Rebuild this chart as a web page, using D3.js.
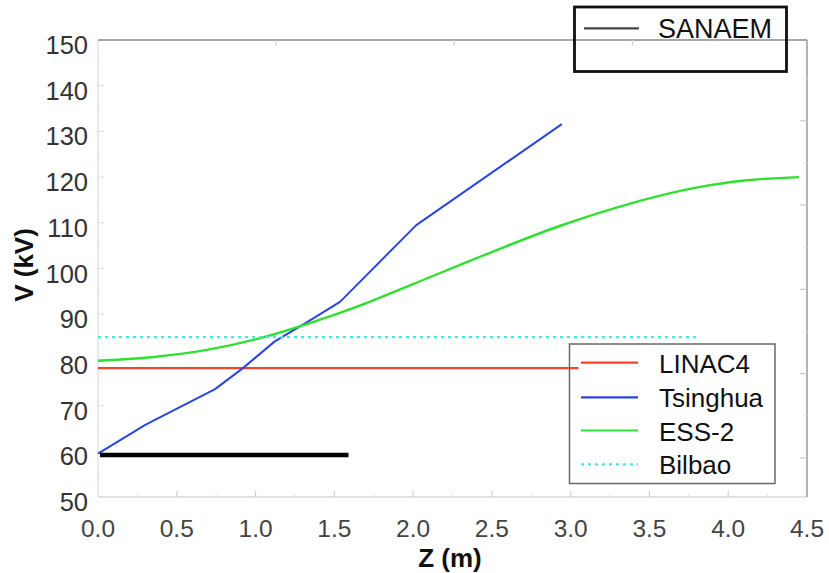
<!DOCTYPE html>
<html>
<head>
<meta charset="utf-8">
<script src="https://cdn.jsdelivr.net/npm/d3@7"></script>
<style>
  html, body { margin: 0; padding: 0; background: #fff; }
  svg { display: block; font-family: "Liberation Sans", Arial, Helvetica, sans-serif; }
</style>
</head>
<body>
<svg id="chart" width="829" height="573"></svg>
<script>
// Vane voltage profiles along the RFQ length
const zTicks = [0, 0.5, 1, 1.5, 2, 2.5, 3, 3.5, 4, 4.5];
const vTicks = [50, 60, 70, 80, 90, 100, 110, 120, 130, 140, 150];

const linac4Z = [0, 3.05];
const linac4V = [78.2, 78.2];

const tsinghuaZ = [0, 0.30, 0.743, 0.92, 1.12, 1.33, 1.536, 2.02, 2.944];
const tsinghuaV = [59.5, 65.8, 73.6, 78.2, 84.0, 88.3, 92.7, 109.5, 131.6];

const essZ = [0, 0.37, 0.69, 1.0, 1.33, 1.64, 2.0, 2.5, 2.93, 3.44, 3.78, 4.12, 4.45];
const essV = [79.8, 80.7, 82.2, 84.5, 87.9, 91.6, 96.6, 103.6, 109.3, 114.8, 117.6, 119.3, 120.0];

const bilbaoZ = [0, 3.82];
const bilbaoV = [85.0, 85.0];

const sanaemZ = [0.013, 1.59];
const sanaemV = [59.2, 59.2];

const legendNames = ["LINAC4", "Tsinghua", "ESS-2", "Bilbao"];

const W = 829, H = 573;
const plot = { left: 98, right: 807, top: 40, bottom: 497 };

const svg = d3.select("#chart");

const x = d3.scaleLinear().domain([0, 4.5]).range([plot.left, plot.right]);
const y = d3.scaleLinear().domain([50, 150]).range([plot.bottom, plot.top]);
// secondary frame scales (ticks only on the right and top edges)
const yRight = d3.scaleLinear().domain([-0.463, 4.958]).range([plot.bottom, plot.top]);
const xTop = d3.scaleLinear().domain([0, 3.98]).range([plot.left, plot.right]);

// frame: faint left/bottom, darker top/right
const frame = svg.append("g");
frame.append("line").attr("x1", plot.left).attr("x2", plot.left).attr("y1", plot.top).attr("y2", plot.bottom)
  .attr("stroke", "#e2e2e2").attr("stroke-width", 1.5);
frame.append("line").attr("x1", plot.left).attr("x2", plot.right).attr("y1", plot.bottom).attr("y2", plot.bottom)
  .attr("stroke", "#d8d8d8").attr("stroke-width", 1.5);
frame.append("line").attr("x1", plot.left).attr("x2", plot.right).attr("y1", plot.top).attr("y2", plot.top)
  .attr("stroke", "#8a8a8a").attr("stroke-width", 1.5);
frame.append("line").attr("x1", plot.right).attr("x2", plot.right).attr("y1", plot.top).attr("y2", plot.bottom)
  .attr("stroke", "#9a9a9a").attr("stroke-width", 1.5);

// bottom axis ticks (inward)
const xMinor = d3.range(0.25, 4.5, 0.5);
svg.append("g").selectAll("line.xmaj").data(zTicks.slice(1, -1)).join("line")
  .attr("x1", d => x(d)).attr("x2", d => x(d))
  .attr("y1", plot.bottom).attr("y2", plot.bottom - 6)
  .attr("stroke", "#cfcfcf").attr("stroke-width", 1.2);
svg.append("g").selectAll("line.xmin").data(xMinor).join("line")
  .attr("x1", d => x(d)).attr("x2", d => x(d))
  .attr("y1", plot.bottom).attr("y2", plot.bottom - 3)
  .attr("stroke", "#e0e0e0").attr("stroke-width", 1);

// left axis ticks (inward)
const yMinor = d3.range(55, 150, 10);
svg.append("g").selectAll("line").data(vTicks.slice(1, -1)).join("line")
  .attr("x1", plot.left).attr("x2", plot.left + 6)
  .attr("y1", d => y(d)).attr("y2", d => y(d))
  .attr("stroke", "#e0e0e0").attr("stroke-width", 1.2);
svg.append("g").selectAll("line").data(yMinor).join("line")
  .attr("x1", plot.left).attr("x2", plot.left + 3)
  .attr("y1", d => y(d)).attr("y2", d => y(d))
  .attr("stroke", "#ececec").attr("stroke-width", 1);

// right edge ticks
svg.append("g").selectAll("line").data([0, 1, 2, 3, 4]).join("line")
  .attr("x1", plot.right).attr("x2", plot.right - 7)
  .attr("y1", d => yRight(d)).attr("y2", d => yRight(d))
  .attr("stroke", "#c8c8c8").attr("stroke-width", 1.2);
svg.append("g").selectAll("line").data([0.5, 1.5, 2.5, 3.5, 4.5]).join("line")
  .attr("x1", plot.right).attr("x2", plot.right - 4)
  .attr("y1", d => yRight(d)).attr("y2", d => yRight(d))
  .attr("stroke", "#e0e0e0").attr("stroke-width", 1);

// top edge ticks
svg.append("g").selectAll("line").data([1, 2, 3]).join("line")
  .attr("x1", d => xTop(d)).attr("x2", d => xTop(d))
  .attr("y1", plot.top).attr("y2", plot.top + 6)
  .attr("stroke", "#d4d4d4").attr("stroke-width", 1.2);

// tick labels
svg.append("g").selectAll("text").data(vTicks).join("text")
  .attr("x", 88).attr("y", d => y(d) + 5)
  .attr("text-anchor", "end").attr("dominant-baseline", "central")
  .attr("font-size", 25.5).attr("fill", "#333")
  .text(d => d);

svg.append("g").selectAll("text").data(zTicks).join("text")
  .attr("x", d => x(d)).attr("y", 528)
  .attr("text-anchor", "middle").attr("dominant-baseline", "central")
  .attr("font-size", 24.5).attr("fill", "#444")
  .text(d => d3.format(".1f")(d));

// axis titles
svg.append("text")
  .attr("transform", "translate(24,265) rotate(-90)")
  .attr("text-anchor", "middle").attr("dominant-baseline", "central")
  .attr("font-size", 26).attr("font-weight", "bold").attr("fill", "#111")
  .text("V (kV)");
svg.append("text")
  .attr("x", 450).attr("y", 558)
  .attr("text-anchor", "middle").attr("dominant-baseline", "central")
  .attr("font-size", 26).attr("font-weight", "bold").attr("fill", "#111")
  .text("Z (m)");

// legend for the four reference RFQs (outline only, drawn beneath the curves)
const lg = svg.append("g");
lg.append("rect").attr("x", 569.5).attr("y", 344).attr("width", 205.5).attr("height", 139.5)
  .attr("fill", "none").attr("stroke", "#6a6a6a").attr("stroke-width", 1.5);

// data series
const series = [
  { name: "LINAC4", z: linac4Z, v: linac4V, color: "#f2452c", width: 2.2, dash: null, curve: d3.curveLinear },
  { name: "Tsinghua", z: tsinghuaZ, v: tsinghuaV, color: "#2b45dd", width: 2, dash: null, curve: d3.curveLinear },
  { name: "ESS-2", z: essZ, v: essV, color: "#30e030", width: 2.4, dash: null, curve: d3.curveCatmullRom },
  { name: "Bilbao", z: bilbaoZ, v: bilbaoV, color: "#4ee4e4", width: 2.2, dash: "3,4", curve: d3.curveLinear },
  { name: "SANAEM", z: sanaemZ, v: sanaemV, color: "#000", width: 4.5, dash: null, curve: d3.curveLinear }
];

const lineGen = d3.line().x(d => x(d[0])).y(d => y(d[1]));

svg.append("g").selectAll("path").data(series).join("path")
  .attr("d", s => lineGen.curve(s.curve)(d3.zip(s.z, s.v)))
  .attr("fill", "none")
  .attr("stroke", s => s.color)
  .attr("stroke-width", s => s.width)
  .attr("stroke-dasharray", s => s.dash)
  .attr("stroke-linejoin", "round");

const legendRows = [362.7, 397.3, 430.5, 464.3];
const legendSeries = legendNames.map(n => series.find(s => s.name === n));
lg.selectAll("line").data(legendSeries).join("line")
  .attr("x1", 581).attr("x2", 638)
  .attr("y1", (d, i) => legendRows[i]).attr("y2", (d, i) => legendRows[i])
  .attr("stroke", d => d.color).attr("stroke-width", 2.2)
  .attr("stroke-dasharray", d => d.dash);
lg.selectAll("text").data(legendSeries).join("text")
  .attr("x", 659).attr("y", (d, i) => legendRows[i] + 1)
  .attr("dominant-baseline", "central")
  .attr("font-size", 26).attr("fill", "#111")
  .text(d => d.name);

// legend for SANAEM, sitting over the top frame
const lt = svg.append("g");
lt.append("rect").attr("x", 574.5).attr("y", 7).attr("width", 212).attr("height", 64.5)
  .attr("fill", "none").attr("stroke", "#111").attr("stroke-width", 2.8);
lt.append("line").attr("x1", 584).attr("x2", 639).attr("y1", 28.3).attr("y2", 28.3)
  .attr("stroke", "#444").attr("stroke-width", 2.2);
lt.append("text").attr("x", 658).attr("y", 29)
  .attr("dominant-baseline", "central")
  .attr("font-size", 27).attr("fill", "#111")
  .text("SANAEM");
</script>
</body>
</html>
